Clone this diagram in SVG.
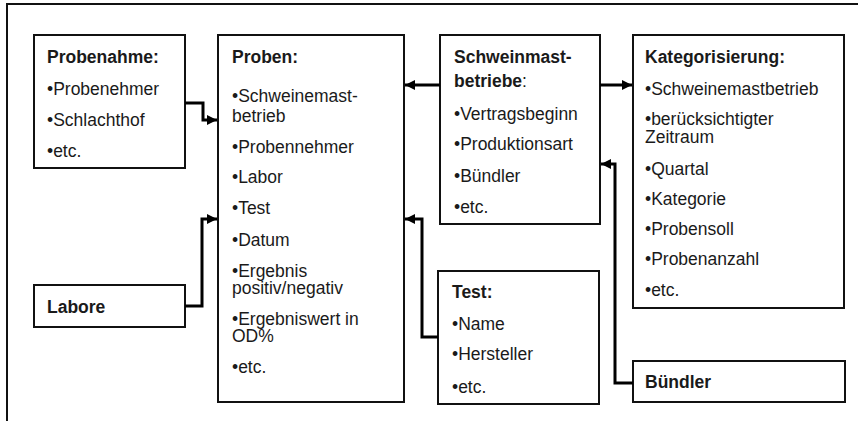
<svg xmlns="http://www.w3.org/2000/svg" width="858" height="421" viewBox="0 0 858 421">
<style>
.box{fill:#fff;stroke:#111;stroke-width:2}
.t{font-family:"Liberation Sans",Arial,sans-serif;font-size:17.5px;fill:#1a1a1a}
.b{font-weight:bold}
.c{fill:none;stroke:#000;stroke-width:3;stroke-linejoin:miter}
</style>
<defs>
<marker id="ah" markerUnits="userSpaceOnUse" markerWidth="10" markerHeight="10" viewBox="0 0 10 10" refX="10" refY="5" orient="auto">
<path d="M0,0 L10,5 L0,10 z" fill="#000"/>
</marker>
</defs>
<rect width="858" height="421" fill="#fff"/>
<path d="M7,421 V4 H858" fill="none" stroke="#111" stroke-width="2"/>

<g id="probenahme">
<rect class="box" x="34" y="35" width="151" height="133"/>
<text class="t b" x="47" y="63">Probenahme:</text>
<text class="t" x="47" y="95">•Probenehmer</text>
<text class="t" x="47" y="126">•Schlachthof</text>
<text class="t" x="47" y="157">•etc.</text>
</g>

<g id="labore">
<rect class="box" x="34" y="285" width="151" height="42"/>
<text class="t b" x="47" y="313">Labore</text>
</g>

<g id="proben">
<rect class="box" x="218" y="35" width="186" height="367"/>
<text class="t b" x="232" y="63">Proben:</text>
<text class="t" x="232" y="102">•Schweinemast-<tspan x="232" dy="20">betrieb</tspan></text>
<text class="t" x="232" y="153">•Probennehmer</text>
<text class="t" x="232" y="183">•Labor</text>
<text class="t" x="232" y="214">•Test</text>
<text class="t" x="232" y="246">•Datum</text>
<text class="t" x="232" y="277">•Ergebnis<tspan x="232" dy="17">positiv/negativ</tspan></text>
<text class="t" x="232" y="325">•Ergebniswert in<tspan x="232" dy="17">OD%</tspan></text>
<text class="t" x="232" y="373">•etc.</text>
</g>

<g id="schweinmastbetriebe">
<rect class="box" x="440" y="35" width="160" height="189"/>
<text class="t b" x="454" y="63">Schweinmast-</text>
<text class="t" x="454" y="87"><tspan class="b">betriebe</tspan>:</text>
<text class="t" x="454" y="120">•Vertragsbeginn</text>
<text class="t" x="454" y="150">•Produktionsart</text>
<text class="t" x="454" y="182">•Bündler</text>
<text class="t" x="454" y="213">•etc.</text>
</g>

<g id="test">
<rect class="box" x="438" y="271" width="161" height="133"/>
<text class="t b" x="452" y="298">Test:</text>
<text class="t" x="452" y="330">•Name</text>
<text class="t" x="452" y="360">•Hersteller</text>
<text class="t" x="452" y="393">•etc.</text>
</g>

<g id="kategorisierung">
<rect class="box" x="633" y="35" width="211" height="273"/>
<text class="t b" x="645" y="63">Kategorisierung:</text>
<text class="t" x="645" y="95">•Schweinemastbetrieb</text>
<text class="t" x="645" y="125">•berücksichtigter<tspan x="645" dy="18">Zeitraum</tspan></text>
<text class="t" x="645" y="175">•Quartal</text>
<text class="t" x="645" y="205">•Kategorie</text>
<text class="t" x="645" y="235">•Probensoll</text>
<text class="t" x="645" y="265">•Probenanzahl</text>
<text class="t" x="645" y="296">•etc.</text>
</g>

<g id="buendler">
<rect class="box" x="633" y="361" width="212" height="41"/>
<text class="t b" x="645" y="388">Bündler</text>
</g>

<g id="connectors">
<path class="c" d="M185,103 H203 V120 H217" marker-end="url(#ah)"/>
<path class="c" d="M185,306 H202 V219 H217" marker-end="url(#ah)"/>
<path class="c" d="M440,85 H405" marker-end="url(#ah)"/>
<path class="c" d="M600,85 H632" marker-end="url(#ah)"/>
<path class="c" d="M438,337 H422 V219 H405" marker-end="url(#ah)"/>
<path class="c" d="M633,383 H615 V164 H601" marker-end="url(#ah)"/>
</g>
</svg>
